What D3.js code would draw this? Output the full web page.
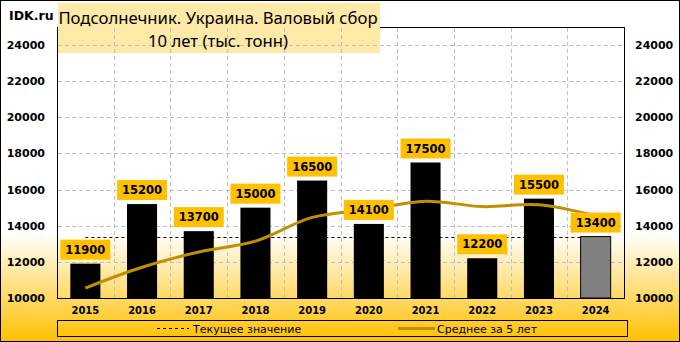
<!DOCTYPE html>
<html>
<head>
<meta charset="utf-8">
<script src="https://cdn.jsdelivr.net/npm/d3@7"></script>
<style>
  body { margin: 0; background: #fff; }
  svg { display: block; }
</style>
</head>
<body>
<div id="chart"></div>
<script>
// data
const years = ["2015", "2016", "2017", "2018", "2019", "2020", "2021", "2022", "2023", "2024"];
const harvest = [11900, 15200, 13700, 15000, 16500, 14100, 17500, 12200, 15500, 13400];
const avg5 = [10550, 11700, 12550, 13150, 14460, 14900, 15360, 15060, 15160, 14540];
const current = 13400;
const yTicks = [10000, 12000, 14000, 16000, 18000, 20000, 22000, 24000];
const titleLines = ["Подсолнечник. Украина. Валовый сбор", "10 лет (тыс. тонн)"];
const legendNames = ["Текущее значение", "Среднее за 5 лет"];

const W = 680, H = 342;
const plot = { left: 57, right: 624, top: 27, bottom: 298 };

const svg = d3.select("#chart").append("svg")
    .attr("width", W)
    .attr("height", H);

// background gradient
const defs = svg.append("defs");
const grad = defs.append("linearGradient")
    .attr("id", "bg").attr("x1", 0).attr("y1", 0).attr("x2", 0).attr("y2", 1);
grad.append("stop").attr("offset", "0%").attr("stop-color", "#ffffff");
grad.append("stop").attr("offset", "68%").attr("stop-color", "#ffffff");
grad.append("stop").attr("offset", "100%").attr("stop-color", "#ffc000");

svg.append("rect")
    .attr("x", 0.5).attr("y", 0.5)
    .attr("width", W - 1).attr("height", H - 1)
    .attr("fill", "url(#bg)")
    .attr("stroke", "#000");

const x = d3.scaleBand()
    .domain(years)
    .range([plot.left, plot.right])
    .paddingInner(0.47)
    .paddingOuter(0.235);

const y = d3.scaleLinear()
    .domain([10000, 25000])
    .range([plot.bottom, plot.top]);

const step = x.step();
const center = d => x(d) + x.bandwidth() / 2;

// plot border
svg.append("rect")
    .attr("x", plot.left + 0.5).attr("y", plot.top + 0.5)
    .attr("width", plot.right - plot.left).attr("height", plot.bottom - plot.top)
    .attr("fill", "none")
    .attr("stroke", "#000");

// title box (covers top border)
svg.append("rect")
    .attr("x", 58).attr("y", 3)
    .attr("width", 322).attr("height", 50)
    .attr("fill", "#ffe9a6");

// grid
const grid = svg.append("g").attr("stroke", "#c0c0c0").attr("stroke-dasharray", "4,3");
grid.selectAll(".hg")
    .data(yTicks.slice(1))
    .enter().append("line")
    .attr("x1", plot.left + 1).attr("x2", plot.right)
    .attr("y1", d => Math.round(y(d)) + 0.5)
    .attr("y2", d => Math.round(y(d)) + 0.5);
grid.selectAll(".vg")
    .data(years.slice(1))
    .enter().append("line")
    .attr("x1", d => Math.round(x(d) - (step - x.bandwidth()) / 2) + 0.5)
    .attr("x2", d => Math.round(x(d) - (step - x.bandwidth()) / 2) + 0.5)
    .attr("y1", plot.top + 1).attr("y2", plot.bottom);

// current value dashed line
svg.append("line")
    .attr("x1", center(years[0]))
    .attr("x2", x(years[years.length - 1]))
    .attr("y1", Math.round(y(current)) + 0.5)
    .attr("y2", Math.round(y(current)) + 0.5)
    .attr("stroke", "#000")
    .attr("stroke-dasharray", "3,3");

// bars
svg.selectAll(".bar")
    .data(years)
    .enter().append("rect")
    .attr("x", d => x(d))
    .attr("y", (d, i) => y(harvest[i]))
    .attr("width", x.bandwidth())
    .attr("height", (d, i) => plot.bottom - y(harvest[i]))
    .attr("fill", (d, i) => i === years.length - 1 ? "#808080" : "#000")
    .attr("stroke", "#000")
    .attr("stroke-width", (d, i) => i === years.length - 1 ? 1 : 0);

// 5-year average line
const line = d3.line()
    .x((d, i) => center(years[i]))
    .y(d => y(d))
    .curve(d3.curveCatmullRom.alpha(0.5));
svg.append("path")
    .datum(avg5)
    .attr("d", line)
    .attr("fill", "none")
    .attr("stroke", "#bf9000")
    .attr("stroke-width", 3);

// value labels
const labels = svg.selectAll(".lab")
    .data(years)
    .enter().append("g")
    .attr("transform", (d, i) => `translate(${center(d)},${y(harvest[i]) - 14})`);
labels.append("rect")
    .attr("x", -25).attr("y", -10)
    .attr("width", 50).attr("height", 20)
    .attr("fill", "#ffc000");
labels.append("text")
    .attr("text-anchor", "middle")
    .attr("dy", "0.36em")
    .style("font", "bold 11.5px 'DejaVu Sans', sans-serif")
    .attr("fill", "#000")
    .text((d, i) => harvest[i]);

// axes labels
const tickFont = "bold 11px 'DejaVu Sans', sans-serif";
svg.selectAll(".ytl")
    .data(yTicks)
    .enter().append("text")
    .attr("x", 45).attr("y", d => y(d))
    .attr("dy", "0.36em")
    .attr("text-anchor", "end")
    .style("font", tickFont)
    .text(d => d);
svg.selectAll(".ytr")
    .data(yTicks)
    .enter().append("text")
    .attr("x", 635).attr("y", d => y(d))
    .attr("dy", "0.36em")
    .attr("text-anchor", "start")
    .style("font", tickFont)
    .text(d => d);
svg.selectAll(".xt")
    .data(years)
    .enter().append("text")
    .attr("x", d => center(d)).attr("y", 314)
    .attr("text-anchor", "middle")
    .style("font", "bold 10px 'DejaVu Sans', sans-serif")
    .text(d => d);

// legend
svg.append("rect")
    .attr("x", 57.5).attr("y", 320.5)
    .attr("width", 570).attr("height", 16)
    .attr("fill", "none")
    .attr("stroke", "#000");
svg.append("line")
    .attr("x1", 157).attr("x2", 189).attr("y1", 328.5).attr("y2", 328.5)
    .attr("stroke", "#000").attr("stroke-dasharray", "3,3");
svg.append("line")
    .attr("x1", 398).attr("x2", 435).attr("y1", 328.5).attr("y2", 328.5)
    .attr("stroke", "#bf9000").attr("stroke-width", 3);
svg.selectAll(".lg")
    .data(legendNames)
    .enter().append("text")
    .attr("x", (d, i) => i === 0 ? 193 : 437)
    .attr("y", 332.5)
    .style("font", "11px 'DejaVu Sans', sans-serif")
    .text(d => d);

// title
svg.append("text")
    .attr("x", 9).attr("y", 20)
    .style("font", "bold 12.5px 'DejaVu Sans', sans-serif")
    .text("IDK.ru");
svg.selectAll(".title")
    .data(titleLines)
    .enter().append("text")
    .attr("x", 218)
    .attr("y", (d, i) => i === 0 ? 24 : 47)
    .attr("text-anchor", "middle")
    .style("font", "16.7px 'Noto Sans', sans-serif")
    .attr("fill", "#000")
    .text(d => d);
</script>
</body>
</html>
